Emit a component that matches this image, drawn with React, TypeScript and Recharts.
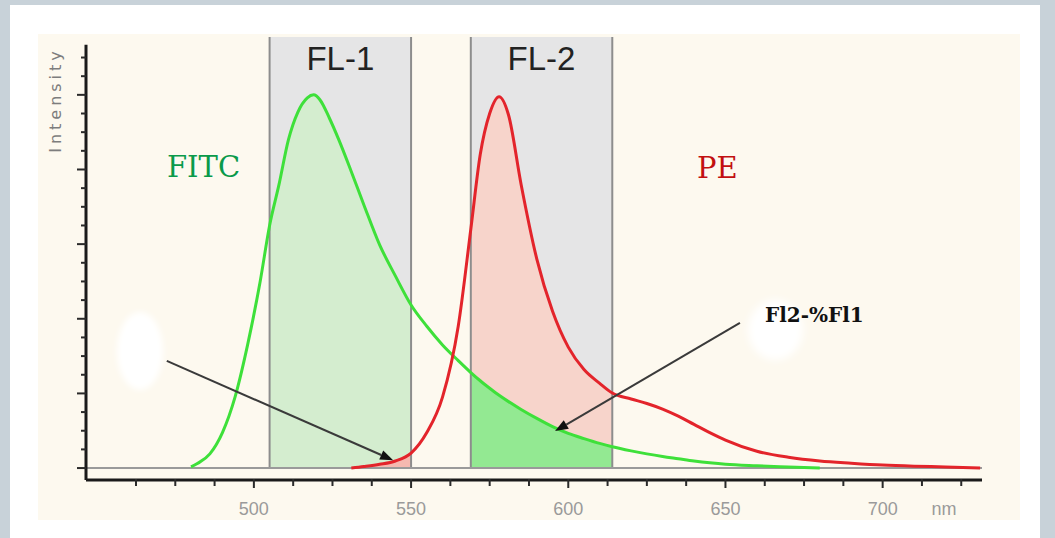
import {
  Area,
  ComposedChart,
  Line,
  ReferenceArea,
  ReferenceLine,
  XAxis,
  YAxis,
} from "recharts";

// wavelength grid (nm) the two emission spectra were read at
const wavelengths = [
  480, 482, 486, 490, 494, 498, 502, 505, 508, 511, 514, 517, 519, 521, 524, 527, 531, 535, 540, 545,
  550, 555, 560, 565, 569, 572, 575, 578, 581, 585, 590, 595, 600, 605, 610, 614, 620, 625, 630, 635,
  640, 645, 650, 660, 670, 680, 690, 700, 710, 720, 731,
];

// relative intensity (% of peak)
const fitcValues = [
  0.3, 1.2, 3.8, 9.5, 19, 33, 50, 65, 76, 88, 95.4, 99.2, 100, 98.7, 93.8, 88, 79.4, 70.5, 59.8, 51.5,
  43.7, 38, 33, 28.8, 25.6, 23.4, 21.4, 19.5, 17.8, 15.7, 13.3, 11.1, 9.3, 7.9, 6.6, 5.7, 4.6, 3.8, 3.1, 2.5,
  1.9, 1.4, 1, 0.6, 0.3, 0, null, null, null, null, null,
];

const peValues = [
  null, null, null, null, null, null, null, null, null, null, null, null, null, null, null, null, 0, 0.4, 1, 1.9,
  4, 9.5, 19, 38, 64, 84, 95, 99.5, 94.6, 76, 56, 42, 32.4, 26.4, 22.7, 20.1, 18.5, 17.3, 15.8, 13.9,
  11.7, 9.5, 7.5, 4.5, 2.9, 1.9, 1.3, 0.8, 0.5, 0.3, 0,
];

// detector bands (nm)
const fl1Band = [505, 550];
const fl2Band = [569, 614];

const xTicks = [
  462.5, 475, 487.5, 500, 512.5, 525, 537.5, 550, 562.5, 575, 587.5, 600, 612.5, 625, 637.5, 650,
  662.5, 675, 687.5, 700, 712.5, 725,
];
const yTicks = [0, 5, 10, 15, 20, 25, 30, 35, 40, 45, 50, 55, 60, 65, 70, 75, 80, 85, 90, 95, 100, 105, 110];

// annotation arrows: [tail, tip] in data coordinates
const fitcArrow = [
  { x: 472.3, y: 28.7 },
  { x: 544.3, y: 2.1 },
];
const peArrow = [
  { x: 654.6, y: 38.9 },
  { x: 595.8, y: 9.9 },
];

const X_MIN = 446.6;
const X_MAX = 731.6;
const Y_MIN = -3.2;
const Y_MAX = 115.5;
const Y_AXIS_TOP = 113.4;

const inBand = (nm: number, band: number[]) => nm >= band[0] && nm <= band[1];

const data = wavelengths.map((nm, i) => ({
  nm,
  fitc: fitcValues[i],
  pe: peValues[i],
  fl1Fitc: inBand(nm, fl1Band) ? fitcValues[i] : null,
  fl1Pe: inBand(nm, fl1Band) ? peValues[i] : null,
  fl2Fitc: inBand(nm, fl2Band) ? fitcValues[i] : null,
  fl2Pe: inBand(nm, fl2Band) ? peValues[i] : null,
}));

function XTick(props: any) {
  const { x, y, payload } = props;
  const v = payload.value as number;
  const major = v % 50 === 0;
  return (
    <g>
      <line x1={x} y1={y - 1} x2={x} y2={y + (major ? 8 : 6)} stroke="#2a2a2a" strokeWidth={2} />
      {major && (
        <text x={x} y={y + 35} textAnchor="middle" fill="#9a9a9a" fontSize={18} fontFamily="Liberation Sans">
          {v}
        </text>
      )}
    </g>
  );
}

function YTick(props: any) {
  const { x, y, payload } = props;
  const major = (payload.value as number) % 20 === 0;
  return <line x1={x - (major ? 9 : 5)} y1={y} x2={x} y2={y} stroke="#2a2a2a" strokeWidth={2} />;
}

function arrowShape(props: any) {
  const { x1, y1, x2, y2 } = props;
  const a = Math.atan2(y2 - y1, x2 - x1);
  const len = 13;
  const w = 5;
  const bx = x2 - len * Math.cos(a);
  const by = y2 - len * Math.sin(a);
  const px = -Math.sin(a) * w;
  const py = Math.cos(a) * w;
  return (
    <g>
      <line x1={x1} y1={y1} x2={bx} y2={by} stroke="#3a3a3a" strokeWidth={2} />
      <polygon points={`${x2},${y2} ${bx + px},${by + py} ${bx - px},${by - py}`} fill="#111" />
    </g>
  );
}

const bandLabel = (value: string) => ({
  value,
  position: "insideTop" as const,
  offset: 10,
  fill: "#222222",
  fontSize: 33,
  fontFamily: "Liberation Sans",
});

export default function App() {
  return (
    <div style={{ position: "absolute", left: 0, top: 0, width: 1055, height: 538, background: "#c8d2d9", overflow: "hidden" }}>
      <div style={{ position: "absolute", left: 10, top: 5, width: 1030, height: 540, background: "#ffffff" }} />
      <div style={{ position: "absolute", left: 38, top: 34, width: 982, height: 486, background: "#fdf9ef" }} />
      <div style={{ position: "absolute", left: 117, top: 312, width: 46, height: 78, borderRadius: "50%", background: "#ffffff", filter: "blur(3px)" }} />
      <div style={{ position: "absolute", left: 748, top: 300, width: 55, height: 60, borderRadius: "50%", background: "#ffffff", filter: "blur(4px)" }} />
      <div style={{ position: "absolute", left: 0, top: 0 }}>
        <ComposedChart width={1055} height={538} data={data} margin={{ top: 37, right: 73, bottom: 28, left: 76 }}>
          <XAxis
            dataKey="nm"
            type="number"
            domain={[X_MIN, X_MAX]}
            ticks={xTicks}
            interval={0}
            tick={XTick}
            tickLine={false}
            tickSize={0}
            tickMargin={0}
            height={30}
            axisLine={{ stroke: "#1a1a1a", strokeWidth: 3 }}
            allowDataOverflow
          />
          <YAxis
            type="number"
            domain={[Y_MIN, Y_MAX]}
            ticks={yTicks}
            interval={0}
            tick={YTick}
            tickLine={false}
            tickSize={0}
            tickMargin={0}
            width={10}
            axisLine={false}
            allowDataOverflow
          />
          <ReferenceArea x1={fl1Band[0]} x2={fl1Band[1]} y1={0} y2={Y_MAX} fill="#e5e5e6" fillOpacity={1} stroke="none" label={bandLabel("FL-1")} />
          <ReferenceArea x1={fl2Band[0]} x2={fl2Band[1]} y1={0} y2={Y_MAX} fill="#e5e5e6" fillOpacity={1} stroke="none" label={bandLabel("FL-2")} />

          <Area dataKey="fl1Fitc" type="monotone" baseValue={0} stroke="none" fill="#d4edcf" fillOpacity={1} isAnimationActive={false} />
          <Area dataKey="fl1Pe" type="monotone" baseValue={0} stroke="none" fill="#f5b9b0" fillOpacity={1} isAnimationActive={false} />
          <Area dataKey="fl2Pe" type="monotone" baseValue={0} stroke="none" fill="#f7d4cb" fillOpacity={1} isAnimationActive={false} />
          <Area dataKey="fl2Fitc" type="monotone" baseValue={0} stroke="none" fill="#93e992" fillOpacity={1} isAnimationActive={false} />

          {[...fl1Band, ...fl2Band].map((nm) => (
            <ReferenceLine key={nm} segment={[{ x: nm, y: 0 }, { x: nm, y: Y_MAX }]} stroke="#8d8d8d" strokeWidth={2} />
          ))}
          <ReferenceLine y={0} stroke="#9a9a9a" strokeWidth={2} />
          <ReferenceLine segment={[{ x: X_MIN, y: Y_MIN }, { x: X_MIN, y: Y_AXIS_TOP }]} stroke="#1a1a1a" strokeWidth={3} />

          <Line dataKey="fitc" type="monotone" stroke="#3ee03a" strokeWidth={3} dot={false} isAnimationActive={false} />
          <Line dataKey="pe" type="monotone" stroke="#e3242b" strokeWidth={3} dot={false} isAnimationActive={false} />

          <ReferenceLine segment={fitcArrow} shape={arrowShape} />
          <ReferenceLine segment={peArrow} shape={arrowShape} />
        </ComposedChart>
      </div>
      <svg width={1055} height={538} style={{ position: "absolute", left: 0, top: 0, pointerEvents: "none" }}>
        <text x={55} y={100} transform="rotate(-90 55 100)" textAnchor="middle" dominantBaseline="central" fill="#7d7d7d" fontSize={16} letterSpacing={4} fontFamily="DejaVu Sans">
          Intensity
        </text>
        <text x={167} y={177} fill="#0a9a4a" fontSize={29} fontFamily="DejaVu Serif">
          FITC
        </text>
        <text x={697} y={178} fill="#c21010" fontSize={29} fontFamily="DejaVu Serif">
          PE
        </text>
        <text x={765} y={322} fill="#111111" fontSize={20} fontWeight="bold" fontFamily="DejaVu Serif">
          Fl2-%Fl1
        </text>
        <text x={944} y={515} textAnchor="middle" fill="#9a9a9a" fontSize={18} fontFamily="Liberation Sans">
          nm
        </text>
      </svg>
    </div>
  );
}
